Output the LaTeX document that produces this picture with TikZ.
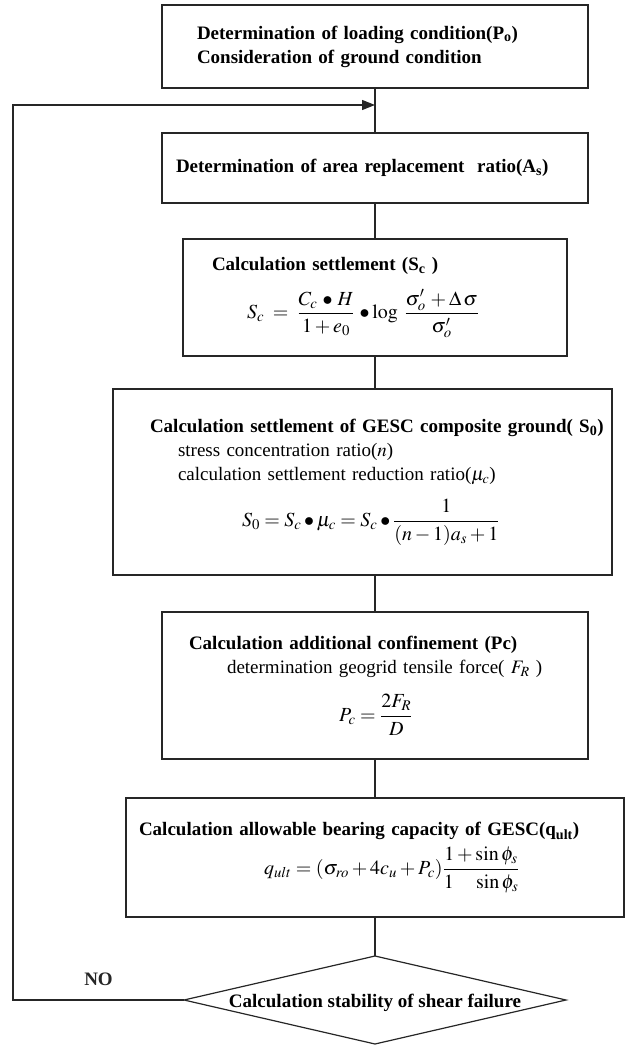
\documentclass[tikz,border=0pt]{standalone}
\usepackage{mathptmx}
\usepackage{fontspec}
\setmainfont{Liberation Serif}
\usepackage{tikz}
\usetikzlibrary{arrows.meta,positioning,shapes.geometric,calc}
\newcommand{\fml}[1]{{\fontsize{20}{24}\selectfont$\displaystyle #1$}}

\begin{document}
\begin{tikzpicture}[x=1pt,y=1pt,>=Latex,
box/.style={draw=black!85,line width=1.2pt,align=left,inner xsep=0pt,inner ysep=0pt,outer sep=0pt,
  font=\fontsize{19}{24}\selectfont},
link/.style={line width=1.2pt,black!85},
arr/.style={-{Triangle[length=13pt,width=10pt]},line width=1.2pt,black!85},
lbl/.style={font=\fontsize{19}{24}\selectfont\bfseries}]
\useasboundingbox (0,0) rectangle (629,-1047);
\node[box,minimum width=426pt,minimum height=83pt,text width=426pt] (loading) at (375,-46.5)
  {\bfseries\hspace*{35pt}Determination of loading condition(P\textsubscript{o})\\
   \hspace*{35pt}Consideration of ground condition};
\node[box,below=45pt of loading,minimum width=426pt,minimum height=70pt,text width=426pt] (area)
  {\bfseries\hspace*{14pt}Determination of area replacement\ \ ratio(A\textsubscript{s})};
\node[box,below=36pt of area,minimum width=384pt,minimum height=117pt,text width=384pt] (settle)
  {\hspace*{29pt}\textbf{Calculation settlement (S\textsubscript{c} )}\\[14pt]
   \hspace*{64pt}\fml{S_c\;=\;\frac{C_c\,\bullet\,H}{1+e_0}\,\bullet\log\;\frac{\sigma'_o\,+\Delta\,\sigma}{\sigma'_o}}\\[16pt]};
\node[box,below=33pt of settle,xshift=-12.5pt,minimum width=499pt,minimum height=186pt,text width=499pt] (ground)
  {\hspace*{37pt}\textbf{Calculation settlement of GESC composite ground( S\textsubscript{0})}\\
   \hspace*{65pt}stress concentration ratio($n$)\\
   \hspace*{65pt}calculation settlement reduction ratio($\mu_c$)\\[14pt]
   \hspace*{129pt}\fml{S_0=S_c\bullet\mu_c=S_c\bullet\frac{1}{(n-1)a_s+1}}\\[2pt]};
\node[box,below=37pt of ground,xshift=12.5pt,minimum width=426pt,minimum height=147pt,text width=426pt] (confine)
  {\hspace*{27pt}\textbf{Calculation additional confinement (Pc)}\\
   \hspace*{65pt}determination geogrid tensile force( $F_R$ )\\[16pt]
   \hspace*{177pt}\fml{P_c=\frac{2F_R}{D}}\\[26pt]};
\node[box,below=39pt of confine,minimum width=498pt,minimum height=119pt,text width=498pt] (bearing)
  {\hspace*{13pt}\textbf{Calculation allowable bearing capacity of GESC(q\textsubscript{ult})}\\[6pt]
   \hspace*{138pt}\fml{q_{ult}=(\sigma_{ro}+4c_u+P_c)\frac{1+\sin\phi_s}{1\quad\sin\phi_s}}};
\node[draw=black!85,line width=1.2pt,diamond,inner sep=0pt,outer sep=0pt,minimum width=382pt,minimum height=88pt,
  below=39pt of bearing,font=\fontsize{19}{24}\selectfont\bfseries] (check)
  {\raisebox{-7pt}[0pt][0pt]{\makebox[0pt]{Calculation stability of shear failure}}};
% links between the steps
\coordinate[below=17pt of loading] (merge);
\coordinate (back) at ($(check.west)+(-171,0)$);
\draw[link] (loading) -- (area);
\draw[link] (area) -- (settle);
\draw[link] (settle) -- (settle |- ground.north);
\draw[link] (ground.south -| confine) -- (confine);
\draw[link] (confine) -- (bearing);
\draw[link] (bearing) -- (check);
\draw[arr] (check.west) -- node[lbl,above=10pt] (no) {NO} (back) |- (merge);
\end{tikzpicture}
\end{document}
